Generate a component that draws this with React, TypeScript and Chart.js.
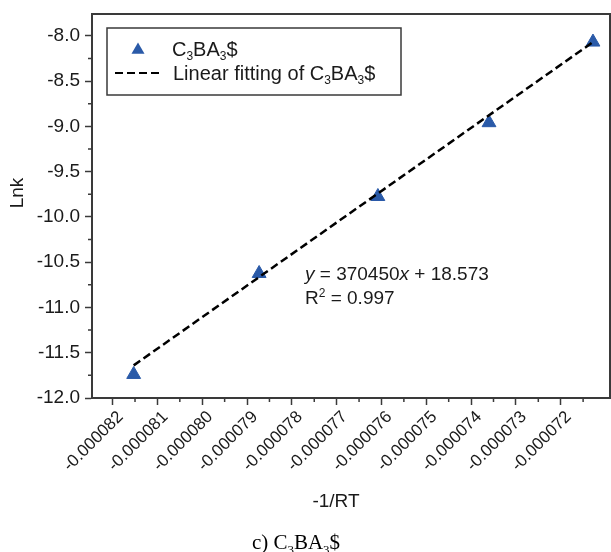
import React, { useEffect, useRef } from 'react';
import { Chart, registerables } from 'chart.js';

Chart.register(...registerables);

// Measured points: x = -1/RT, y = ln k
const xValues = [-0.00008153, -0.00007873, -0.00007608, -0.0000736, -0.00007128];
const lnkValues = [-11.74, -10.625, -9.775, -8.96, -8.07];

// Endpoints of the fitted straight line
const fitX = [-0.00008153, -0.00007128];
const fitY = [-11.64, -8.07];

const xTickValues = [
  -0.000082, -0.000081, -0.00008, -0.000079, -0.000078, -0.000077,
  -0.000076, -0.000075, -0.000074, -0.000073, -0.000072,
];
const yTickValues = [-12, -11.5, -11, -10.5, -10, -9.5, -9, -8.5, -8];

const xMin = -0.00008246;
const xMax = -0.0000709;
const yMin = -12;
const yMax = -7.76;

const seriesName = 'C3BA3$';
const equationText = 'y = 370450x + 18.573';
const r2Text = 'R2 = 0.997';
const xTitle = '-1/RT';
const yTitle = 'Lnk';

const SANS = "'Liberation Sans', Arial, Helvetica, sans-serif";
const SERIF = "'Liberation Serif', 'Times New Roman', serif";
const BLUE = '#2a5aa8';
const INK = '#1a1a1a';
const AXIS = '#3a3a3a';

type Seg = { t: string; sub?: boolean; sup?: boolean; italic?: boolean };

// "C3BA3$" -> C, sub 3, BA, sub 3, $
const chemSegs = (prefix: string): Seg[] => [
  { t: prefix + 'C' }, { t: '3', sub: true }, { t: 'BA' }, { t: '3', sub: true }, { t: '$' },
];

function drawRich(
  ctx: CanvasRenderingContext2D,
  segs: Seg[],
  x: number,
  baseline: number,
  size: number,
  family: string,
  align: 'left' | 'center' = 'left',
) {
  const fontFor = (s: Seg) =>
    `${s.italic ? 'italic ' : ''}${s.sub || s.sup ? Math.round(size * 0.62) : size}px ${family}`;
  const widths = segs.map((s) => {
    ctx.font = fontFor(s);
    return ctx.measureText(s.t).width;
  });
  const total = widths.reduce((a, b) => a + b, 0);
  let cx = align === 'center' ? x - total / 2 : x;
  ctx.textAlign = 'left';
  ctx.textBaseline = 'alphabetic';
  segs.forEach((s, i) => {
    ctx.font = fontFor(s);
    const dy = s.sub ? size * 0.22 : s.sup ? -size * 0.36 : 0;
    ctx.fillText(s.t, cx, baseline + dy);
    cx += widths[i];
  });
}

const decorations = {
  id: 'decorations',
  afterDraw(chart: any) {
    const { ctx, chartArea, scales } = chart;
    const xs = scales.x;
    const ys = scales.y;
    ctx.save();

    // top and right frame lines
    ctx.strokeStyle = AXIS;
    ctx.lineWidth = 2;
    ctx.beginPath();
    ctx.moveTo(chartArea.left, chartArea.top);
    ctx.lineTo(chartArea.right, chartArea.top);
    ctx.lineTo(chartArea.right, chartArea.bottom);
    ctx.stroke();

    // minor ticks halfway between major ticks
    ctx.lineWidth = 1.5;
    const xStep = xTickValues[1] - xTickValues[0];
    ctx.beginPath();
    [xTickValues[0] - xStep / 2, ...xTickValues.map((v) => v + xStep / 2)].forEach((v) => {
      if (v <= xMin || v >= xMax) return;
      const px = xs.getPixelForValue(v);
      ctx.moveTo(px, chartArea.bottom);
      ctx.lineTo(px, chartArea.bottom + 4);
    });
    const yStep = yTickValues[1] - yTickValues[0];
    yTickValues.map((v) => v + yStep / 2).forEach((v) => {
      if (v <= yMin || v >= yMax) return;
      const py = ys.getPixelForValue(v);
      ctx.moveTo(chartArea.left, py);
      ctx.lineTo(chartArea.left - 4, py);
    });
    ctx.stroke();

    // legend box
    ctx.fillStyle = '#ffffff';
    ctx.fillRect(107, 28, 294, 67);
    ctx.strokeStyle = AXIS;
    ctx.lineWidth = 1.5;
    ctx.strokeRect(107, 28, 294, 67);

    // legend: marker
    const tx = 138;
    const ty = 50;
    const r = 7.5;
    ctx.fillStyle = BLUE;
    ctx.beginPath();
    ctx.moveTo(tx, ty - r);
    ctx.lineTo(tx + r * Math.sin((2 * Math.PI) / 3), ty + r / 2);
    ctx.lineTo(tx - r * Math.sin((2 * Math.PI) / 3), ty + r / 2);
    ctx.closePath();
    ctx.fill();

    // legend: dashed line
    ctx.strokeStyle = '#000';
    ctx.lineWidth = 2;
    ctx.setLineDash([8, 4]);
    ctx.beginPath();
    ctx.moveTo(115, 73);
    ctx.lineTo(161, 73);
    ctx.stroke();
    ctx.setLineDash([]);

    ctx.fillStyle = INK;
    drawRich(ctx, chemSegs(''), 172, 56, 20, SANS);
    drawRich(ctx, [{ t: 'Linear fitting of ' }, ...chemSegs('')], 173, 80, 20, SANS);

    // fit equation
    const eqParts = equationText.split(/(y|x)/).filter((p) => p !== '');
    drawRich(
      ctx,
      eqParts.map((p) => ({ t: p, italic: p === 'x' || p === 'y' })),
      305, 280, 19, SANS,
    );
    drawRich(
      ctx,
      [{ t: r2Text.slice(0, 1) }, { t: r2Text.slice(1, 2), sup: true }, { t: r2Text.slice(2) }],
      305, 304, 19, SANS,
    );

    // axis titles
    ctx.fillStyle = INK;
    ctx.font = `19px ${SANS}`;
    ctx.textAlign = 'center';
    ctx.textBaseline = 'middle';
    ctx.fillText(xTitle, 336, 502);
    ctx.save();
    ctx.translate(18, 193);
    ctx.rotate(-Math.PI / 2);
    ctx.fillText(yTitle, 0, 0);
    ctx.restore();

    // caption
    ctx.fillStyle = '#000';
    drawRich(ctx, chemSegs('c) '), 296, 549, 21, SERIF, 'center');

    ctx.restore();
  },
};

export default function App() {
  const canvasRef = useRef<HTMLCanvasElement | null>(null);

  useEffect(() => {
    document.body.style.margin = '0';
    const canvas = canvasRef.current;
    if (!canvas) return;

    const chart = new Chart(canvas, {
      type: 'scatter',
      data: {
        datasets: [
          {
            type: 'line',
            label: 'Linear fitting of ' + seriesName,
            data: fitX.map((x, i) => ({ x, y: fitY[i] })),
            borderColor: '#000',
            borderWidth: 2.5,
            borderDash: [8, 4],
            pointRadius: 0,
            fill: false,
            order: 0,
          },
          {
            type: 'scatter',
            label: seriesName,
            data: xValues.map((x, i) => ({ x, y: lnkValues[i] })),
            pointStyle: 'triangle',
            pointRadius: 8,
            backgroundColor: BLUE,
            borderColor: BLUE,
            borderWidth: 1,
            order: 1,
          },
        ],
      },
      options: {
        animation: false,
        responsive: false,
        devicePixelRatio: 1,
        layout: { autoPadding: false, padding: { left: 0, right: 1, top: 14, bottom: 0 } },
        plugins: {
          legend: { display: false },
          tooltip: { enabled: false },
        },
        scales: {
          x: {
            type: 'linear',
            min: xMin,
            max: xMax,
            afterBuildTicks: (s: any) => {
              s.ticks = xTickValues.map((v) => ({ value: v }));
            },
            afterFit: (s: any) => {
              s.height = 154;
              s.paddingLeft = 0;
              s.paddingRight = 0;
            },
            ticks: {
              autoSkip: false,
              minRotation: 45,
              maxRotation: 45,
              padding: 2,
              labelOffset: 8,
              color: INK,
              font: { family: SANS, size: 17 },
              callback: (v: any) => Number(v).toFixed(6),
            },
            grid: {
              drawOnChartArea: false,
              drawTicks: true,
              tickLength: 7,
              tickColor: AXIS,
              tickWidth: 1.5,
            },
            border: { display: true, color: AXIS, width: 2 },
          },
          y: {
            type: 'linear',
            min: yMin,
            max: yMax,
            afterBuildTicks: (s: any) => {
              s.ticks = yTickValues.map((v) => ({ value: v }));
            },
            afterFit: (s: any) => {
              s.width = 92;
              s.paddingTop = 0;
              s.paddingBottom = 0;
            },
            ticks: {
              padding: 5,
              color: INK,
              font: { family: SANS, size: 19 },
              callback: (v: any) => Number(v).toFixed(1),
            },
            grid: {
              drawOnChartArea: false,
              drawTicks: true,
              tickLength: 7,
              tickColor: AXIS,
              tickWidth: 1.5,
            },
            border: { display: true, color: AXIS, width: 2 },
          },
        },
      },
      plugins: [decorations],
    });

    return () => chart.destroy();
  }, []);

  return <canvas ref={canvasRef} width={611} height={552} style={{ display: 'block' }} />;
}
